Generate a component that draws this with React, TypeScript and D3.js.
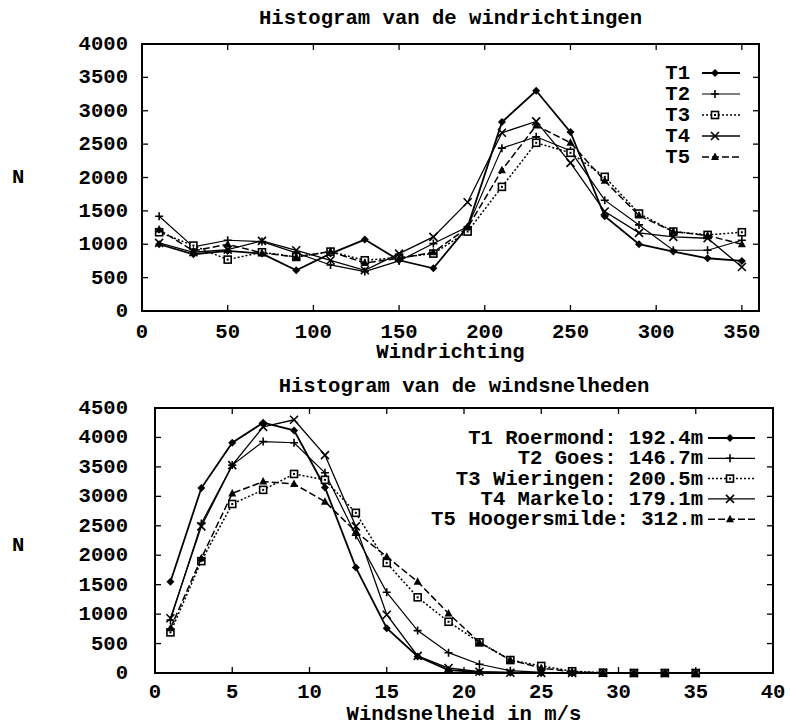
import * as d3 from 'd3';

// wind direction histogram (bins centred on 10, 30, ... 350)
const dirBins = [10, 30, 50, 70, 90, 110, 130, 150, 170, 190, 210, 230, 250, 270, 290, 310, 330, 350];
const dirT1 = [1000, 850, 900, 860, 610, 860, 1070, 760, 640, 1260, 2830, 3300, 2680, 1420, 1000, 890, 790, 750];
const dirT2 = [1420, 960, 1060, 1040, 870, 690, 590, 750, 1010, 1260, 2440, 2610, 2400, 1660, 1290, 910, 910, 1060];
const dirT3 = [1180, 980, 770, 880, 810, 890, 760, 800, 860, 1190, 1860, 2520, 2370, 2010, 1460, 1190, 1140, 1180];
const dirT4 = [1020, 880, 920, 1050, 910, 760, 610, 860, 1110, 1630, 2670, 2840, 2220, 1490, 1170, 1110, 1090, 660];
const dirT5 = [1220, 900, 1000, 870, 810, 890, 720, 790, 880, 1250, 2110, 2780, 2520, 1950, 1430, 1190, 1130, 1000];

// wind speed histogram (bins centred on 1, 3, ... 35 m/s)
const speedBins = [1, 3, 5, 7, 9, 11, 13, 15, 17, 19, 21, 23, 25, 27, 29, 31, 33, 35];
const spdT1 = [1550, 3140, 3910, 4250, 4120, 3150, 1790, 760, 280, 50, 15, 5, 2, 0, 0, 0, 0, 0];
const spdT2 = [900, 2540, 3530, 3930, 3910, 3400, 2340, 1370, 720, 345, 148, 40, 10, 2, 0, 0, 0, 0];
const spdT3 = [690, 1900, 2870, 3110, 3380, 3280, 2720, 1870, 1285, 870, 520, 220, 120, 30, 5, 0, 0, 0];
const spdT4 = [930, 2490, 3530, 4180, 4300, 3700, 2490, 990, 290, 85, 22, 5, 2, 0, 0, 0, 0, 0];
const spdT5 = [760, 1950, 3050, 3250, 3210, 2910, 2400, 1975, 1550, 1010, 520, 220, 85, 20, 3, 0, 0, 0];

const dirLabels = ['T1', 'T2', 'T3', 'T4', 'T5'];
const speedLabels = [
  'T1 Roermond: 192.4m',
  'T2 Goes: 146.7m',
  'T3 Wieringen: 200.5m',
  'T4 Markelo: 179.1m',
  'T5 Hoogersmilde: 312.m',
];

const dirTicks = [0, 50, 100, 150, 200, 250, 300, 350];
const dirYTicks = [0, 500, 1000, 1500, 2000, 2500, 3000, 3500, 4000];
const speedTicks = [0, 5, 10, 15, 20, 25, 30, 35, 40];
const speedYTicks = [0, 500, 1000, 1500, 2000, 2500, 3000, 3500, 4000, 4500];

const FONT = '"Liberation Mono", "Courier New", monospace';
const FS = 20.6;

type Marker = 'diamond' | 'plus' | 'square' | 'times' | 'triangle';
const styles: { marker: Marker; dash: string; width: number }[] = [
  { marker: 'diamond', dash: '', width: 1.8 },
  { marker: 'plus', dash: '', width: 1.2 },
  { marker: 'square', dash: '2,2', width: 1.5 },
  { marker: 'times', dash: '', width: 1.3 },
  { marker: 'triangle', dash: '7,3', width: 1.5 },
];

function Mark({ type, x, y }: { type: Marker; x: number; y: number }) {
  const r = 4;
  if (type === 'diamond')
    return <path d={`M${x},${y - r}L${x + r},${y}L${x},${y + r}L${x - r},${y}Z`} fill="#000" />;
  if (type === 'plus')
    return <path d={`M${x - r},${y}H${x + r}M${x},${y - r}V${y + r}`} stroke="#000" strokeWidth={1.6} />;
  if (type === 'times')
    return <path d={`M${x - r},${y - r}L${x + r},${y + r}M${x - r},${y + r}L${x + r},${y - r}`} stroke="#000" strokeWidth={1.6} />;
  if (type === 'square')
    return (
      <g>
        <rect x={x - 3.5} y={y - 3.5} width={7} height={7} fill="#fff" stroke="#000" strokeWidth={1.6} />
        <rect x={x - 1} y={y - 1} width={2} height={2} fill="#000" />
      </g>
    );
  return <path d={`M${x},${y - r - 0.5}L${x + r},${y + r - 1}L${x - r},${y + r - 1}Z`} fill="#000" />;
}

type PanelProps = {
  title: string;
  titleY: number;
  xLabel: string;
  xLabelY: number;
  tickLabelDy: number;
  xDomain: [number, number];
  xRange: [number, number];
  yDomain: [number, number];
  yRange: [number, number];
  xTicks: number[];
  yTicks: number[];
  bins: number[];
  series: number[][];
  labels: string[];
  legendTextX: number;
  legendLine: [number, number];
  legendMarkX: number;
  legendY0: number;
  legendDy: number;
  nY: number;
};

function Panel(p: PanelProps) {
  const x = d3.scaleLinear().domain(p.xDomain).range(p.xRange);
  const y = d3.scaleLinear().domain(p.yDomain).range(p.yRange);
  const [x0, x1] = p.xRange;
  const [yb, yt] = p.yRange;
  const line = d3.line<number>().x((_, i) => x(p.bins[i])).y(d => y(d));
  const tl = 6;

  return (
    <g>
      <text x={(x0 + x1) / 2} y={p.titleY} textAnchor="middle" fontSize={FS} fontWeight="bold">{p.title}</text>
      <text x={12} y={p.nY} fontSize={FS} fontWeight="bold">N</text>
      <text x={(x0 + x1) / 2} y={p.xLabelY} textAnchor="middle" fontSize={FS} fontWeight="bold">{p.xLabel}</text>

      {p.xTicks.map(t => (
        <g key={'x' + t}>
          <line x1={x(t)} x2={x(t)} y1={yb} y2={yb - tl} stroke="#000" strokeWidth={1.3} />
          <line x1={x(t)} x2={x(t)} y1={yt} y2={yt + tl} stroke="#000" strokeWidth={1.3} />
          <text x={x(t)} y={yb + p.tickLabelDy} textAnchor="middle" fontSize={FS} fontWeight="bold">{t}</text>
        </g>
      ))}
      {p.yTicks.map(t => (
        <g key={'y' + t}>
          <line x1={x0} x2={x0 + tl} y1={y(t)} y2={y(t)} stroke="#000" strokeWidth={1.3} />
          <line x1={x1} x2={x1 - tl} y1={y(t)} y2={y(t)} stroke="#000" strokeWidth={1.3} />
          <text x={128} y={y(t) + 6} textAnchor="end" fontSize={FS} fontWeight="bold">{t}</text>
        </g>
      ))}
      <rect x={x0} y={yt} width={x1 - x0} height={yb - yt} fill="none" stroke="#000" strokeWidth={2} />

      {p.series.map((s, i) => (
        <g key={'s' + i}>
          <path d={line(s) ?? ''} fill="none" stroke="#000" strokeWidth={styles[i].width}
            strokeDasharray={styles[i].dash || undefined} />
          {s.map((v, j) => <Mark key={j} type={styles[i].marker} x={x(p.bins[j])} y={y(v)} />)}
        </g>
      ))}

      {p.labels.map((lab, i) => {
        const ly = p.legendY0 + i * p.legendDy;
        return (
          <g key={'l' + i}>
            <text x={p.legendTextX} y={ly + 6} textAnchor="end" fontSize={FS} fontWeight="bold">{lab}</text>
            <line x1={p.legendLine[0]} x2={p.legendLine[1]} y1={ly} y2={ly} stroke="#000"
              strokeWidth={styles[i].width} strokeDasharray={styles[i].dash || undefined} />
            <Mark type={styles[i].marker} x={p.legendMarkX} y={ly} />
          </g>
        );
      })}
    </g>
  );
}

export default function App() {
  return (
    <svg width={790} height={724} style={{ position: 'absolute', left: 0, top: 0, background: '#fff' }}
      fontFamily={FONT}>
      <rect width={790} height={724} fill="#fff" />
      <Panel
        title="Histogram van de windrichtingen" titleY={24}
        xLabel="Windrichting" xLabelY={358} tickLabelDy={27}
        xDomain={[0, 360]} xRange={[142, 759]}
        yDomain={[0, 4000]} yRange={[311, 44]}
        xTicks={dirTicks} yTicks={dirYTicks}
        bins={dirBins} series={[dirT1, dirT2, dirT3, dirT4, dirT5]}
        labels={dirLabels} legendTextX={690} legendLine={[702, 740]} legendMarkX={715}
        legendY0={73} legendDy={21} nY={183}
      />
      <Panel
        title="Histogram van de windsnelheden" titleY={392}
        xLabel="Windsnelheid in m/s" xLabelY={720} tickLabelDy={25}
        xDomain={[0, 40]} xRange={[155, 773]}
        yDomain={[0, 4500]} yRange={[673, 408]}
        xTicks={speedTicks} yTicks={speedYTicks}
        bins={speedBins} series={[spdT1, spdT2, spdT3, spdT4, spdT5]}
        labels={speedLabels} legendTextX={703} legendLine={[708, 755]} legendMarkX={730}
        legendY0={438} legendDy={20.3} nY={551}
      />
    </svg>
  );
}
